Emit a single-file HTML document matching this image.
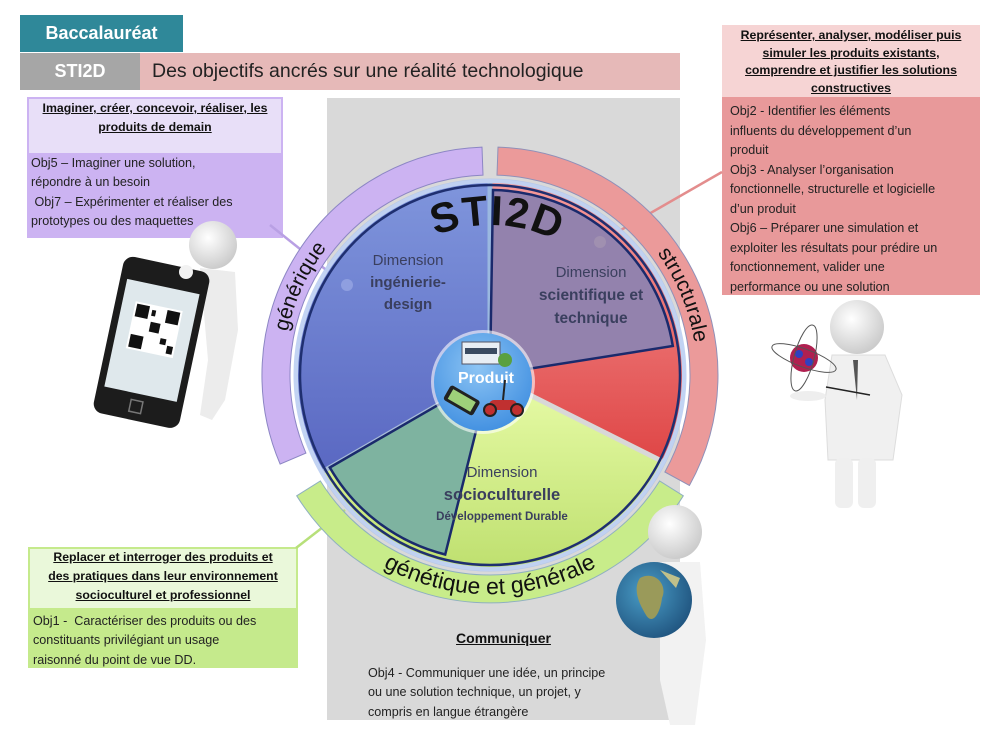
<!DOCTYPE html>
<html><head><meta charset="utf-8">
<style>
body{margin:0;width:1000px;height:750px;position:relative;background:#fff;font-family:"Liberation Sans",sans-serif;overflow:hidden}
.a{position:absolute}
.t{font-size:12.6px;line-height:19.3px;color:#222;white-space:nowrap}
.h{font-weight:bold;text-decoration:underline;text-align:center;font-size:12.3px;line-height:19px;color:#111;white-space:nowrap}
</style></head><body>
<div class="a" style="left:327px;top:98px;width:353px;height:622px;background:#d9d9d9"></div>
<div class="a" style="left:20px;top:15px;width:163px;height:37px;background:#2f8899;color:#fff;font-weight:bold;font-size:18px;line-height:37px;text-align:center">Baccalauréat</div>
<div class="a" style="left:20px;top:53px;width:120px;height:37px;background:#a6a6a6;color:#fff;font-weight:bold;font-size:18px;line-height:37px;text-align:center">STI2D</div>
<div class="a" style="left:140px;top:53px;width:540px;height:37px;background:#e6b9b8;color:#222;font-size:19.5px;line-height:37px;padding-left:12px;box-sizing:border-box">Des objectifs ancrés sur une réalité technologique</div>

<div class="a" style="left:27px;top:97px;width:256px;height:141px;background:#ccb3f2"></div>
<div class="a" style="left:29px;top:99px;width:252px;height:54px;background:#e8dff8"></div>
<div class="a h" style="left:27px;top:99px;width:256px">Imaginer, créer, concevoir, réaliser, les<br>produits de demain</div>
<div class="a t" style="left:31px;top:154px">Obj5 – Imaginer une solution,<br>répondre à un besoin<br>&nbsp;Obj7 – Expérimenter et réaliser des<br>prototypes ou des maquettes</div>

<div class="a" style="left:722px;top:25px;width:258px;height:270px;background:#e8999a"></div>
<div class="a" style="left:722px;top:25px;width:258px;height:72px;background:#f6d4d4"></div>
<div class="a h" style="left:722px;top:27px;width:258px;line-height:17.5px">Représenter, analyser, modéliser puis<br>simuler les produits existants,<br>comprendre et justifier les solutions<br>constructives</div>
<div class="a t" style="left:730px;top:102px;line-height:19.5px">Obj2 - Identifier les éléments<br>influents du développement d’un<br>produit<br>Obj3 - Analyser l’organisation<br>fonctionnelle, structurelle et logicielle<br>d’un produit<br>Obj6 – Préparer une simulation et<br>exploiter les résultats pour prédire un<br>fonctionnement, valider une<br>performance ou une solution</div>

<div class="a" style="left:28px;top:547px;width:270px;height:121px;background:#c5ea8c"></div>
<div class="a" style="left:30px;top:549px;width:266px;height:59px;background:#eaf8da"></div>
<div class="a h" style="left:28px;top:548px;width:270px">Replacer et interroger des produits et<br>des pratiques dans leur environnement<br>socioculturel et professionnel</div>
<div class="a t" style="left:33px;top:612px">Obj1 -&nbsp; Caractériser des produits ou des<br>constituants privilégiant un usage<br>raisonné du point de vue DD.</div>

<div class="a" style="left:327px;top:630px;width:353px;text-align:center;font-weight:bold;text-decoration:underline;font-size:14px;color:#111">Communiquer</div>
<div class="a t" style="left:368px;top:664px">Obj4 - Communiquer une idée, un principe<br>ou une solution technique, un projet, y<br>compris en langue étrangère</div>

<svg class="a" style="left:0;top:0" width="1000" height="750" viewBox="0 0 1000 750">
<defs>
<linearGradient id="gb" x1="0" y1="0" x2="0" y2="1"><stop offset="0" stop-color="#7f95dc"/><stop offset="1" stop-color="#5a68c2"/></linearGradient>
<linearGradient id="gr" x1="0" y1="0" x2="0" y2="1"><stop offset="0" stop-color="#f69a9a"/><stop offset="1" stop-color="#df4646"/></linearGradient>
<linearGradient id="gg" x1="0" y1="0" x2="0" y2="1"><stop offset="0" stop-color="#e8fca8"/><stop offset="1" stop-color="#bfe070"/></linearGradient>
<radialGradient id="gp" cx="0.45" cy="0.35" r="0.7"><stop offset="0" stop-color="#8cc4f4"/><stop offset="1" stop-color="#3f8ee0"/></radialGradient>
<radialGradient id="gl" cx="0.4" cy="0.4" r="0.7"><stop offset="0" stop-color="#4a9ec8"/><stop offset="1" stop-color="#1d4f7a"/></radialGradient>
<radialGradient id="gw" cx="0.4" cy="0.35" r="0.7"><stop offset="0" stop-color="#ffffff"/><stop offset="1" stop-color="#c8c8c8"/></radialGradient>
</defs>
<line x1="722" y1="172" x2="600" y2="242" stroke="#e38d8d" stroke-width="2.5"/>
<line x1="270" y1="225" x2="345" y2="285" stroke="#b9a0e4" stroke-width="2.5"/>
<line x1="296" y1="548" x2="345" y2="510" stroke="#b7e07a" stroke-width="2.5"/>
<path d="M280.1,464.1 A228 228 0 0 1 482,147.1 L483,175.1 A200 200 0 0 0 305.9,453.1 Z" fill="#ccb3f2" stroke="#8c86c4" stroke-width="1"/>
<path d="M498,147.1 A228 228 0 0 1 689.4,485.5 L664.9,472 A200 200 0 0 0 497,175.1 Z" fill="#eb9a9a" stroke="#9090b8" stroke-width="1"/>
<path d="M683.3,495.8 A228 228 0 0 1 296.7,495.8 L320.4,481 A200 200 0 0 0 659.6,481 Z" fill="#c8ec8a" stroke="#8fb0c0" stroke-width="1"/>
<circle cx="490" cy="375" r="196" fill="#ffffff" opacity="0.8"/>
<circle cx="490" cy="375" r="194" fill="none" stroke="#a8c0ee" stroke-width="5" opacity="0.7"/>
<path d="M490,375 L323.7,471 A192 192 0 0 1 490,183 Z" fill="url(#gb)"/>
<path d="M490,375 L490,183 A192 192 0 0 1 661.6,461 Z" fill="url(#gr)"/>
<path d="M490,375 L661.6,461 A192 192 0 0 1 323.7,471 Z" fill="url(#gg)"/>
<line x1="490" y1="375" x2="490" y2="183" stroke="#9ab8e0" stroke-width="5"/>
<line x1="490" y1="375" x2="661.6" y2="461" stroke="#d8d8d8" stroke-width="5"/>
<line x1="490" y1="375" x2="323.7" y2="471" stroke="#a8bcd8" stroke-width="5"/>
<path d="M490,375 L493,190 A185 185 0 0 1 672.8,346 Z" fill="#9382ad" stroke="#1a2a6c" stroke-width="2.5"/>
<path d="M490,375 L445.2,554.5 A185 185 0 0 1 329.8,467.5 Z" fill="#7eb3a0" stroke="#1a2a6c" stroke-width="2.5"/>
<circle cx="490" cy="375" r="190" fill="none" stroke="#1f2f70" stroke-width="2.5"/>
<circle cx="347" cy="285" r="6" fill="#8f9fe0"/>
<circle cx="600" cy="242" r="6" fill="#a090b0"/>
<g font-family="Liberation Sans,sans-serif" fill="#3a3f5e" text-anchor="middle">
<text x="408" y="265" font-size="15">Dimension</text>
<text x="408" y="287" font-size="15" font-weight="bold">ingénierie-</text>
<text x="408" y="309" font-size="15" font-weight="bold">design</text>
<text x="591" y="277" font-size="15">Dimension</text>
<text x="591" y="300" font-size="15.5" font-weight="bold">scientifique et</text>
<text x="591" y="323" font-size="15.5" font-weight="bold">technique</text>
<text x="502" y="477" font-size="15">Dimension</text>
<text x="502" y="500" font-size="16.5" font-weight="bold">socioculturelle</text>
<text x="502" y="520" font-size="11.5" font-weight="bold">Développement Durable</text>
</g>
<path id="pS" d="M393.6,260.1 A150 150 0 0 1 586.4,260.1" fill="none"/>
<path id="pG" d="M295.5,445.8 A207 207 0 0 1 419.2,180.5" fill="none"/>
<path id="pT" d="M577.5,187.4 A207 207 0 0 1 684.5,445.8" fill="none"/>
<path id="pB" d="M309.8,501.2 A221 221 0 0 0 670.2,501.2" fill="none"/>
<g font-family="Liberation Sans,sans-serif" fill="#111">
<text font-size="42" font-weight="bold" text-anchor="middle"><textPath href="#pS" startOffset="53%" textLength="125">STI2D</textPath></text>
<text font-size="21" text-anchor="middle"><textPath href="#pG" startOffset="50%">générique</textPath></text>
<text font-size="21" text-anchor="middle"><textPath href="#pT" startOffset="50%">structurale</textPath></text>
<text font-size="23" text-anchor="middle"><textPath href="#pB" startOffset="50%">génétique et générale</textPath></text>
</g>
<circle cx="483" cy="382" r="52" fill="#fff" opacity="0.6"/>
<circle cx="483" cy="382" r="49" fill="url(#gp)"/>
<rect x="462" y="342" width="38" height="22" fill="#e8eef4" stroke="#556" stroke-width="1"/>
<rect x="465" y="348" width="32" height="6" fill="#3a4a60"/>
<circle cx="505" cy="360" r="7" fill="#5aa040"/>
<text x="486" y="383" font-family="Liberation Sans,sans-serif" font-size="16" font-weight="bold" fill="#fff" text-anchor="middle">Produit</text>
<rect x="445" y="392" width="34" height="17" rx="3" fill="#222" transform="rotate(30 462 400)"/>
<rect x="449" y="395" width="26" height="11" fill="#9ed07a" transform="rotate(30 462 400)"/>
<rect x="489" y="400" width="28" height="10" rx="5" fill="#c03030"/>
<circle cx="490" cy="410" r="6" fill="#c03030" stroke="#222" stroke-width="2"/>
<circle cx="517" cy="410" r="6" fill="#c03030" stroke="#222" stroke-width="2"/>
<line x1="503" y1="400" x2="505" y2="380" stroke="#222" stroke-width="2"/>
<circle cx="213" cy="245" r="24" fill="url(#gw)"/>
<path d="M200,268 L235,272 L238,330 L225,400 L212,420 L200,415 L208,360 Z" fill="#ececec"/>
<g transform="rotate(12 150 340)">
<rect x="108" y="262" width="88" height="160" rx="10" fill="#1c1c1c"/>
<rect x="115" y="285" width="74" height="110" fill="#dfe8ec"/>
<rect x="128" y="305" width="48" height="48" fill="#fff"/>
<g fill="#111"><rect x="130" y="307" width="13" height="13"/><rect x="161" y="307" width="13" height="13"/><rect x="130" y="338" width="13" height="13"/><rect x="147" y="322" width="10" height="10"/><rect x="160" y="336" width="6" height="6"/><rect x="168" y="342" width="6" height="8"/><rect x="146" y="310" width="4" height="6"/></g>
<rect x="144" y="402" width="12" height="12" fill="none" stroke="#777" stroke-width="1.5"/>
</g>
<circle cx="186" cy="272" r="7" fill="#f2f2f2"/>
<circle cx="857" cy="327" r="27" fill="url(#gw)"/>
<path d="M832,355 L885,355 L902,395 L893,460 L828,460 L825,400 Z" fill="#f0f0f0" stroke="#ddd"/>
<rect x="835" y="458" width="18" height="50" rx="6" fill="#efefef"/>
<rect x="858" y="458" width="18" height="50" rx="6" fill="#efefef"/>
<path d="M853,360 L858,360 L857,400 Z" fill="#555"/>
<ellipse cx="808" cy="396" rx="18" ry="5" fill="#eee"/>
<line x1="826" y1="387" x2="870" y2="395" stroke="#222" stroke-width="1.5"/>
<circle cx="804" cy="358" r="14" fill="#b02050"/>
<circle cx="799" cy="354" r="4" fill="#3040c0"/><circle cx="809" cy="362" r="4" fill="#3040c0"/>
<ellipse cx="804" cy="358" rx="10" ry="34" fill="none" stroke="#555" stroke-width="1" transform="rotate(15 804 358)"/>
<ellipse cx="804" cy="358" rx="34" ry="9" fill="none" stroke="#555" stroke-width="1" transform="rotate(20 804 358)"/>
<circle cx="675" cy="532" r="27" fill="url(#gw)"/>
<path d="M660,562 L700,562 L706,640 L695,725 L670,725 L660,680 Z" fill="#f2f2f2"/>
<circle cx="654" cy="600" r="38" fill="url(#gl)"/>
<path d="M640,578 C655,570 668,585 662,598 C660,615 652,625 646,615 C640,605 632,590 640,578 Z" fill="#9a9a5a"/>
<path d="M660,570 L680,578 L676,588 Z" fill="#c0c08a"/>
</svg>
</body></html>
